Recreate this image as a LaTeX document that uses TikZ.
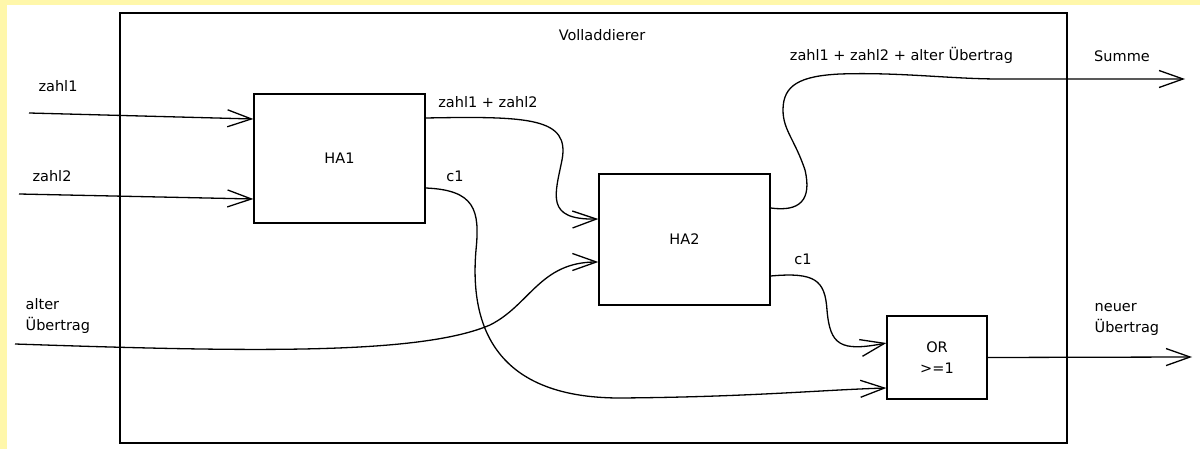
\documentclass[tikz,border=0pt]{standalone}
\usepackage{fontspec}
\setmainfont{DejaVu Sans}
\usetikzlibrary{arrows.meta}
\definecolor{gelb1}{RGB}{255,247,170}

\begin{document}
\begin{tikzpicture}[x=1pt,y=-1pt,line width=1.3pt,
  every node/.style={font=\fontsize{14.5}{21}\selectfont},
  box/.style={draw,rectangle,inner sep=0pt},
  txt/.style={inner sep=0pt,align=left},
  pfeil/.style={-{Straight Barb[length=24pt,width=17pt,line width=1.3pt]}}]

% Rand
\fill[gelb1] (0,0) rectangle (1200,449);
\fill[white] (7,5) rectangle (1200,449);
\useasboundingbox (0,0) rectangle (1200,449);

% Bloecke
\node[box,minimum width=947pt,minimum height=430pt] (va) at (593.5,228) {};
\node[] (tva) at (602,35) {Volladdierer};
\node[box,minimum width=171pt,minimum height=129pt] (ha1) at (339.5,158.5) {HA1};
\node[box,minimum width=171pt,minimum height=131pt] (ha2) at (684.5,239.5) {HA2};
\node[box,minimum width=100pt,minimum height=83pt,align=center] (or) at (937,357.5) {OR\\>=1};

% Ein- und Ausgaenge
\coordinate (ein1) at (29,113);
\coordinate (ein2) at (19,194);
\coordinate (ein3) at (15,344);
\coordinate (aus1) at (1185,79);
\coordinate (aus2) at (1192,357);

\node[txt] (tz1) at (58,86) {zahl1};
\node[txt] (tz2) at (52,176) {zahl2};
\node[txt,anchor=west] (tue) at (25,315.5) {alter\\Übertrag};
\node[txt] (tsum1) at (488,102) {zahl1 + zahl2};
\node[txt] (tc1) at (455,176) {c1};
\node[txt] (tc2) at (803,259) {c1};
\node[txt] (tsum2) at (901.5,55) {zahl1 + zahl2 + alter Übertrag};
\node[txt] (tsumme) at (1122,56) {Summe};
\node[txt,anchor=west] (tnue) at (1094,319.5) {neuer\\Übertrag};

% Verbindungen
\draw[pfeil] (ein1) -- ([yshift=39.5pt]ha1.west);
\draw[pfeil] (ein2) -- ([yshift=-40.5pt]ha1.west);

\draw[pfeil] ([yshift=40.5pt]ha1.east) .. controls (530,116) and (570,118) .. (562,160)
  .. controls (555,195) and (545,220) .. ([yshift=20.5pt]ha2.west);

\draw[pfeil] (ein3) .. controls (250,352) and (420,355) .. (490,325)
  .. controls (530,305) and (540,262) .. ([yshift=-22.5pt]ha2.west);

\draw[pfeil] ([yshift=-29.5pt]ha1.east) .. controls (475,190) and (480,210) .. (476,250)
  .. controls (470,320) and (490,398) .. (620,398)
  .. controls (750,397) and (820,390) .. ([yshift=-30.5pt]or.west);

\draw[pfeil] ([yshift=31.5pt]ha2.east) .. controls (800,212) and (812,200) .. (805,170)
  .. controls (795,140) and (783,130) .. (783,110)
  .. controls (783,85) and (800,76) .. (840,74)
  .. controls (900,72) and (950,79) .. (1000,79) -- (aus1);

\draw[pfeil] ([yshift=-36.5pt]ha2.east) .. controls (815,272) and (825,280) .. (827,310)
  .. controls (830,345) and (840,352) .. ([yshift=14.5pt]or.west);

\draw[pfeil] (or.east) -- (aus2);

\end{tikzpicture}
\end{document}
